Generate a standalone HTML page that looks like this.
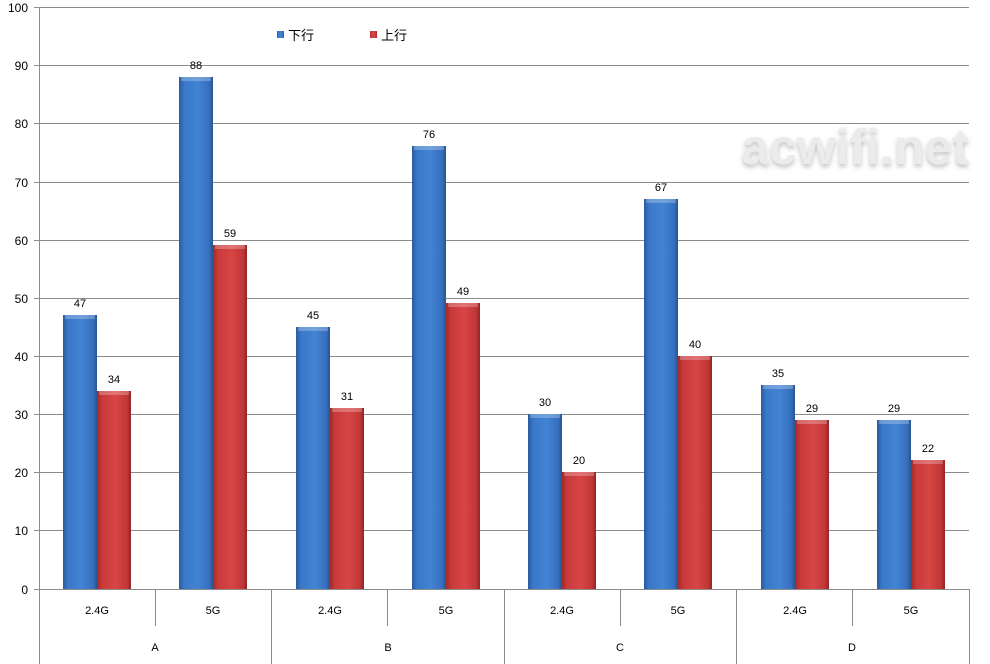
<!DOCTYPE html>
<html><head><meta charset="utf-8"><style>
html,body{margin:0;padding:0;background:#fff;}
svg{display:block;}
text{font-family:"Liberation Sans","Noto Sans CJK SC",sans-serif;fill:#000;}
</style></head><body>
<svg width="990" height="664" viewBox="0 0 990 664" xmlns="http://www.w3.org/2000/svg">
<defs>
<linearGradient id="gb" x1="0" x2="1" y1="0" y2="0">
<stop offset="0" stop-color="#2a5a9e"/><stop offset="0.15" stop-color="#3a78c8"/><stop offset="0.55" stop-color="#4283d3"/><stop offset="0.88" stop-color="#3670bf"/><stop offset="1" stop-color="#28548f"/>
</linearGradient>
<linearGradient id="gr" x1="0" x2="1" y1="0" y2="0">
<stop offset="0" stop-color="#a02a2a"/><stop offset="0.15" stop-color="#c93a3a"/><stop offset="0.55" stop-color="#d84545"/><stop offset="0.88" stop-color="#c13636"/><stop offset="1" stop-color="#922525"/>
</linearGradient>
<filter id="blur"><feGaussianBlur stdDeviation="2.5"/></filter>
</defs>
<g stroke="#8c8c8c" stroke-width="1">
<line x1="39" y1="7.5" x2="969" y2="7.5"/>
<line x1="39" y1="65.5" x2="969" y2="65.5"/>
<line x1="39" y1="123.5" x2="969" y2="123.5"/>
<line x1="39" y1="182.5" x2="969" y2="182.5"/>
<line x1="39" y1="240.5" x2="969" y2="240.5"/>
<line x1="39" y1="298.5" x2="969" y2="298.5"/>
<line x1="39" y1="356.5" x2="969" y2="356.5"/>
<line x1="39" y1="414.5" x2="969" y2="414.5"/>
<line x1="39" y1="472.5" x2="969" y2="472.5"/>
<line x1="39" y1="530.5" x2="969" y2="530.5"/>
<line x1="34" y1="589.5" x2="969" y2="589.5"/>
<line x1="39.5" y1="7" x2="39.5" y2="664"/>
<g>
<line x1="34" y1="7.5" x2="39" y2="7.5"/><line x1="34" y1="65.5" x2="39" y2="65.5"/><line x1="34" y1="123.5" x2="39" y2="123.5"/><line x1="34" y1="182.5" x2="39" y2="182.5"/><line x1="34" y1="240.5" x2="39" y2="240.5"/><line x1="34" y1="298.5" x2="39" y2="298.5"/><line x1="34" y1="356.5" x2="39" y2="356.5"/><line x1="34" y1="414.5" x2="39" y2="414.5"/><line x1="34" y1="472.5" x2="39" y2="472.5"/><line x1="34" y1="530.5" x2="39" y2="530.5"/>
</g>
<line x1="155.5" y1="589" x2="155.5" y2="626"/>
<line x1="387.5" y1="589" x2="387.5" y2="626"/>
<line x1="620.5" y1="589" x2="620.5" y2="626"/>
<line x1="852.5" y1="589" x2="852.5" y2="626"/>
<line x1="271.5" y1="589" x2="271.5" y2="664"/>
<line x1="504.5" y1="589" x2="504.5" y2="664"/>
<line x1="736.5" y1="589" x2="736.5" y2="664"/>
<line x1="969.5" y1="589" x2="969.5" y2="664"/>
</g>
<text x="855" y="167" font-size="50" font-weight="bold" style="fill:#c4c4c4" filter="url(#blur)" text-anchor="middle">acwifi.net</text>
<text x="855" y="164" font-size="50" font-weight="bold" style="fill:#ebebeb" text-anchor="middle">acwifi.net</text>
<g font-size="12" text-anchor="end">
<text x="28" y="12">100</text><text x="28" y="70">90</text><text x="28" y="128">80</text><text x="28" y="187">70</text><text x="28" y="245">60</text><text x="28" y="303">50</text><text x="28" y="361">40</text><text x="28" y="419">30</text><text x="28" y="477">20</text><text x="28" y="535">10</text><text x="28" y="594">0</text>
</g>
<g font-size="11" text-anchor="middle">
<text x="97" y="614">2.4G</text><text x="213" y="614">5G</text><text x="330" y="614">2.4G</text><text x="446" y="614">5G</text><text x="562" y="614">2.4G</text><text x="678" y="614">5G</text><text x="795" y="614">2.4G</text><text x="911" y="614">5G</text>
<text x="155" y="651">A</text><text x="388" y="651">B</text><text x="620" y="651">C</text><text x="852" y="651">D</text>
</g>
<g id="bars">
<rect x="63" y="315" width="34" height="274" fill="url(#gb)"/>
<rect x="97" y="391" width="34" height="198" fill="url(#gr)"/>
<rect x="179" y="77" width="34" height="512" fill="url(#gb)"/>
<rect x="213" y="245" width="34" height="344" fill="url(#gr)"/>
<rect x="296" y="327" width="34" height="262" fill="url(#gb)"/>
<rect x="330" y="408" width="34" height="181" fill="url(#gr)"/>
<rect x="412" y="146" width="34" height="443" fill="url(#gb)"/>
<rect x="446" y="303" width="34" height="286" fill="url(#gr)"/>
<rect x="528" y="414" width="34" height="175" fill="url(#gb)"/>
<rect x="562" y="472" width="34" height="117" fill="url(#gr)"/>
<rect x="644" y="199" width="34" height="390" fill="url(#gb)"/>
<rect x="678" y="356" width="34" height="233" fill="url(#gr)"/>
<rect x="761" y="385" width="34" height="204" fill="url(#gb)"/>
<rect x="795" y="420" width="34" height="169" fill="url(#gr)"/>
<rect x="877" y="420" width="34" height="169" fill="url(#gb)"/>
<rect x="911" y="460" width="34" height="129" fill="url(#gr)"/>
</g>
<g fill="#ffffff" opacity="0.25">
<rect x="65" y="315" width="30" height="4"/><rect x="99" y="391" width="30" height="4"/><rect x="181" y="77" width="30" height="4"/><rect x="215" y="245" width="30" height="4"/><rect x="298" y="327" width="30" height="4"/><rect x="332" y="408" width="30" height="4"/><rect x="414" y="146" width="30" height="4"/><rect x="448" y="303" width="30" height="4"/><rect x="530" y="414" width="30" height="4"/><rect x="564" y="472" width="30" height="4"/><rect x="646" y="199" width="30" height="4"/><rect x="680" y="356" width="30" height="4"/><rect x="763" y="385" width="30" height="4"/><rect x="797" y="420" width="30" height="4"/><rect x="879" y="420" width="30" height="4"/><rect x="913" y="460" width="30" height="4"/>
</g>
<g font-size="11" text-anchor="middle">
<text x="80" y="307">47</text><text x="114" y="383">34</text>
<text x="196" y="69">88</text><text x="230" y="237">59</text>
<text x="313" y="319">45</text><text x="347" y="400">31</text>
<text x="429" y="138">76</text><text x="463" y="295">49</text>
<text x="545" y="406">30</text><text x="579" y="464">20</text>
<text x="661" y="191">67</text><text x="695" y="348">40</text>
<text x="778" y="377">35</text><text x="812" y="412">29</text>
<text x="894" y="412">29</text><text x="928" y="452">22</text>
</g>
<rect x="277" y="31" width="7" height="7" fill="url(#gb)"/>
<text x="288" y="40" font-size="13">下行</text>
<rect x="370" y="31" width="7" height="7" fill="url(#gr)"/>
<text x="381" y="40" font-size="13">上行</text>
</svg>
</body></html>
